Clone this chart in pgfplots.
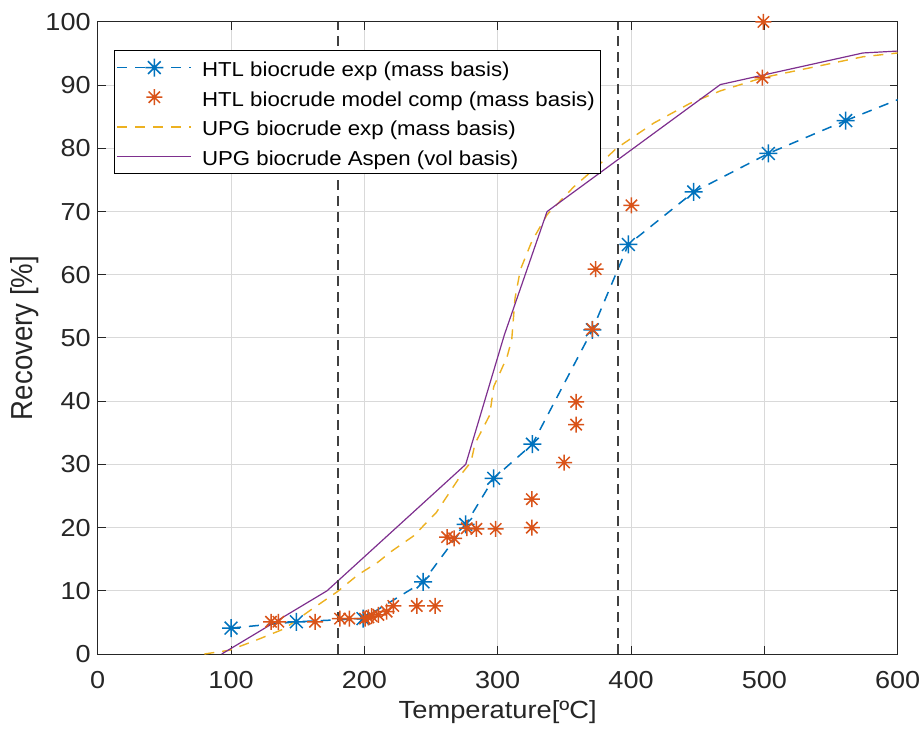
\documentclass[border=0pt]{standalone}
\usepackage{fontspec}
\setmainfont{Liberation Sans}[FakeStretch=1.1]
\newfontfamily\plainsans{Liberation Sans}
\usepackage{graphicx}
\usepackage{pgfplots}
\pgfplotsset{compat=1.18}

\definecolor{mblue}{rgb}{0,0.447,0.741}
\definecolor{morange}{rgb}{0.850,0.325,0.098}
\definecolor{myellow}{rgb}{0.929,0.694,0.125}
\definecolor{mpurple}{rgb}{0.494,0.184,0.556}
\definecolor{axgray}{rgb}{0.15,0.15,0.15}

% eight-armed asterisk marker
\pgfdeclareplotmark{mstar}{%
  \pgfpathmoveto{\pgfqpoint{-\pgfplotmarksize}{0pt}}%
  \pgfpathlineto{\pgfqpoint{\pgfplotmarksize}{0pt}}%
  \pgfpathmoveto{\pgfqpoint{0pt}{-\pgfplotmarksize}}%
  \pgfpathlineto{\pgfqpoint{0pt}{\pgfplotmarksize}}%
  \pgfpathmoveto{\pgfqpoint{-0.7071\pgfplotmarksize}{-0.7071\pgfplotmarksize}}%
  \pgfpathlineto{\pgfqpoint{0.7071\pgfplotmarksize}{0.7071\pgfplotmarksize}}%
  \pgfpathmoveto{\pgfqpoint{-0.7071\pgfplotmarksize}{0.7071\pgfplotmarksize}}%
  \pgfpathlineto{\pgfqpoint{0.7071\pgfplotmarksize}{-0.7071\pgfplotmarksize}}%
  \pgfusepathqstroke}

\pgfplotsset{
  legsample/.style={legend image code/.code={%
    \draw[mark repeat=2,mark phase=2,##1] plot coordinates {(0pt,0pt) (18.5pt,0pt) (37pt,0pt)};}},
}

\begin{document}
\begin{tikzpicture}
\begin{axis}[
  name=ax,
  scale only axis, width=400pt, height=316pt,
  xmin=0, xmax=600, ymin=0, ymax=100,
  xtick={0,100,...,600}, ytick={0,10,...,100},
  grid=major,
  major grid style={draw=black!15, line width=0.5pt},
  tick align=inside, major tick length=4pt,
  axis line style={draw=axgray, line width=0.5pt},
  tick style={draw=axgray, line width=0.5pt},
  /pgf/number format/assume math mode=true,
  ticklabel style={font=\fontsize{12.3}{14}\selectfont, text=axgray},
  xticklabel style={yshift=-5pt},
  xlabel={Temperature[ºC]},
  ylabel={\scalebox{1}[1.1]{\plainsans Recovery [\%]}},
  every axis x label/.style={at={(axis description cs:0.5,-0.092)}, anchor=center,
    font=\fontsize{12.4}{14}\selectfont, text=axgray},
  every axis y label/.style={at={(axis description cs:-0.091,0.5)}, rotate=90, anchor=center,
    font=\fontsize{13.8}{16}\selectfont, text=axgray},
  legend cell align=left,
  legend style={at={(0.0205,0.9555)}, anchor=north west, draw=black, line width=0.5pt,
    fill=white, font=\fontsize{10.1}{12}\selectfont, text=black,
    inner xsep=1pt, inner ysep=1.5pt, row sep=0.8pt,
    nodes={inner ysep=1.25pt, inner xsep=2pt, text height=10.3pt, text depth=1.2pt},
    /tikz/every odd column/.append style={column sep=3pt}},
]
% HTL biocrude, experimental
\addplot[color=mblue, line width=0.75pt, dash pattern=on 5pt off 4pt, mark=mstar, mark size=4.5pt,
  mark options={solid, line width=0.75pt}, legsample]
  coordinates {(100,4.1) (149,5.1) (199,5.6) (244,11.4) (276,20.5) (297,27.8) (326,33.2)
               (371,51.3) (398,64.8) (447,73.1) (503,79.2) (561,84.4)};
\addlegendentry{HTL biocrude exp (mass basis)}
\addplot[color=mblue, line width=0.75pt, dash pattern=on 5pt off 4pt, forget plot]
  coordinates {(561,84.4) (620,89.4)};
% HTL biocrude, model components
\addplot[color=morange, only marks, mark=mstar, mark size=4pt,
  mark options={solid, line width=0.75pt}, legsample]
  coordinates {(130,5.1) (135.5,5.1) (163,5.1) (181.7,5.6) (188.7,5.6) (200.5,5.6) (203,5.8)
               (205.5,6.0) (210.5,6.2) (216.7,6.7) (221.7,7.6) (239.3,7.6) (253,7.6)
               (262,18.5) (267.3,18.3) (276.8,19.9) (284,19.8) (298.5,19.8) (325.6,20.0)
               (325.6,24.5) (349.8,30.3) (358.8,36.3) (358.8,39.9) (371,51.4) (373.5,60.9)
               (400.3,71.0) (498.5,91.2) (499.3,100)};
\addlegendentry{HTL biocrude model comp (mass basis)}
% upgraded biocrude, experimental
\addplot[color=myellow, line width=0.7pt, dash pattern=on 5pt off 4pt, legsample]
  coordinates {(80,0) (99,0.6) (119,2.2) (140,4.0) (160,7.0) (180,9.9) (195,12.5) (210,14.5)
               (220,16.2) (237,18.7) (254,22.4) (264,25.6) (274,28.8) (280,30.4) (283,33.3)
               (294,37.8) (297,42.3) (307,47.0) (310.5,49.7) (313,56.3) (317,60.8)
               (325.6,65.3) (337,69.5) (357,73.9) (377,77.6) (389,80.0) (417,84.0)
               (444,87.1) (467,89.1) (499,91.2) (540,93.0) (574,94.5) (600,95.1)};
\addlegendentry{UPG biocrude exp (mass basis)}
% upgraded biocrude, Aspen model
\addplot[color=mpurple, line width=0.6pt, legsample]
  coordinates {(93,0) (172,10) (276,30) (305,50.5) (337,70) (467,90.1) (574,95.1) (600,95.4)};
\addlegendentry{UPG biocrude Aspen (vol basis)}
% boundary temperatures
\addplot[color=black!75, line width=1pt, dash pattern=on 5pt off 3pt, forget plot]
  coordinates {(180,0) (180,100)};
\addplot[color=black!75, line width=1pt, dash pattern=on 5pt off 3pt, forget plot]
  coordinates {(390,0) (390,100)};
\end{axis}
\pgfresetboundingbox
\path[use as bounding box] (ax.south west) ++(-48.85pt,-38.5pt) rectangle
  ([xshift=11.65pt,yshift=11pt]ax.north east);
\end{tikzpicture}
\end{document}
